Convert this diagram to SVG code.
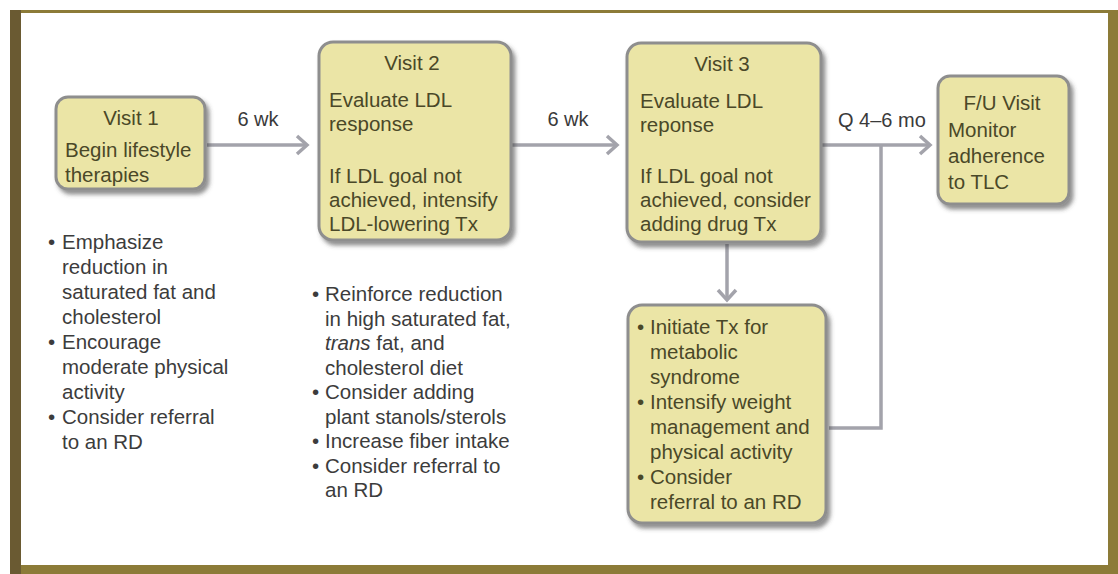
<svg xmlns="http://www.w3.org/2000/svg" width="1118" height="574" viewBox="0 0 1118 574">
<defs>
<style>
.box{fill:#ebe5a6;stroke:#8e8e8e;stroke-width:3;filter:url(#sh)}
.bt{font-family:"Liberation Sans",Arial,sans-serif;font-size:20.5px;fill:#4a4828}
.ot{font-family:"Liberation Sans",Arial,sans-serif;font-size:20.5px;fill:#3c3c3c}
.lb{font-family:"Liberation Sans",Arial,sans-serif;font-size:20px;fill:#3a3a3a}
.cn{fill:none;stroke:#a3a3ab;stroke-width:3.5}
</style>
<filter id="sh" x="-10%" y="-10%" width="130%" height="130%">
<feDropShadow dx="3" dy="4" stdDeviation="2" flood-color="#444" flood-opacity="0.6"/>
</filter>
<marker id="ah" markerWidth="16" markerHeight="22" refX="13" refY="11" orient="auto" markerUnits="userSpaceOnUse">
<path d="M3,2 L13,11 L3,20" fill="none" stroke="#a3a3ab" stroke-width="3.5"/>
</marker>
</defs>
<rect x="0" y="0" width="1118" height="574" fill="#ffffff"/>
<rect x="10" y="10" width="1108" height="564" fill="#8c7b38"/>
<rect x="10" y="10" width="11" height="564" fill="#6a5a32"/>
<rect x="21" y="13" width="1087" height="552" fill="#ffffff"/>

<g id="connectors">
<path class="cn" d="M207,145 H307" marker-end="url(#ah)"/>
<path class="cn" d="M512,145 H617" marker-end="url(#ah)"/>
<path class="cn" d="M822,145 H930" marker-end="url(#ah)"/>
<path class="cn" d="M829,428 H881 V145"/>
<path class="cn" d="M727,244 V300" marker-end="url(#ah)"/>
<text class="lb" x="258" y="126" text-anchor="middle">6 wk</text>
<text class="lb" x="568" y="126" text-anchor="middle">6 wk</text>
<text class="lb" x="838" y="127">Q 4–6 mo</text>
</g>

<g id="visit1">
<rect class="box" x="56" y="97" width="149" height="92" rx="12"/>
<text class="bt" x="131" y="125" text-anchor="middle">Visit 1</text>
<text class="bt" x="65" y="157">Begin lifestyle</text>
<text class="bt" x="65" y="182">therapies</text>
</g>

<g id="visit2">
<rect class="box" x="319" y="42" width="192" height="198" rx="14"/>
<text class="bt" x="412" y="70" text-anchor="middle">Visit 2</text>
<text class="bt" x="329" y="107">Evaluate LDL</text>
<text class="bt" x="329" y="131">response</text>
<text class="bt" x="329" y="183">If LDL goal not</text>
<text class="bt" x="329" y="207">achieved, intensify</text>
<text class="bt" x="329" y="231">LDL-lowering Tx</text>
</g>

<g id="visit3">
<rect class="box" x="627" y="43" width="194" height="199" rx="14"/>
<text class="bt" x="722" y="71" text-anchor="middle">Visit 3</text>
<text class="bt" x="640" y="108">Evaluate LDL</text>
<text class="bt" x="640" y="132">reponse</text>
<text class="bt" x="640" y="183">If LDL goal not</text>
<text class="bt" x="640" y="207">achieved, consider</text>
<text class="bt" x="640" y="231">adding drug Tx</text>
</g>

<g id="fu-visit">
<rect class="box" x="938" y="76" width="131" height="128" rx="12"/>
<text class="bt" x="1002" y="110" text-anchor="middle">F/U Visit</text>
<text class="bt" x="948" y="137">Monitor</text>
<text class="bt" x="948" y="163">adherence</text>
<text class="bt" x="948" y="189">to TLC</text>
</g>

<g id="metabolic-box">
<rect class="box" x="628" y="305" width="198" height="218" rx="14"/>
<text class="bt"><tspan x="637" y="334">•</tspan><tspan x="650" y="334">Initiate Tx for</tspan></text>
<text class="bt" x="650" y="359">metabolic</text>
<text class="bt" x="650" y="384">syndrome</text>
<text class="bt"><tspan x="637" y="409">•</tspan><tspan x="650" y="409">Intensify weight</tspan></text>
<text class="bt" x="650" y="434">management and</text>
<text class="bt" x="650" y="459">physical activity</text>
<text class="bt"><tspan x="637" y="484">•</tspan><tspan x="650" y="484">Consider</tspan></text>
<text class="bt" x="650" y="509">referral to an RD</text>
</g>

<g id="visit1-notes">
<text class="ot"><tspan x="48" y="249">•</tspan><tspan x="62" y="249">Emphasize</tspan></text>
<text class="ot" x="62" y="274">reduction in</text>
<text class="ot" x="62" y="299">saturated fat and</text>
<text class="ot" x="62" y="324">cholesterol</text>
<text class="ot"><tspan x="48" y="349">•</tspan><tspan x="62" y="349">Encourage</tspan></text>
<text class="ot" x="62" y="374">moderate physical</text>
<text class="ot" x="62" y="399">activity</text>
<text class="ot"><tspan x="48" y="424">•</tspan><tspan x="62" y="424">Consider referral</tspan></text>
<text class="ot" x="62" y="449">to an RD</text>
</g>

<g id="visit2-notes">
<text class="ot"><tspan x="312" y="301">•</tspan><tspan x="325" y="301">Reinforce reduction</tspan></text>
<text class="ot" x="325" y="325.5">in high saturated fat,</text>
<text class="ot" x="325" y="350"><tspan font-style="italic">trans</tspan> fat, and</text>
<text class="ot" x="325" y="374.5">cholesterol diet</text>
<text class="ot"><tspan x="312" y="399">•</tspan><tspan x="325" y="399">Consider adding</tspan></text>
<text class="ot" x="325" y="423.5">plant stanols/sterols</text>
<text class="ot"><tspan x="312" y="448">•</tspan><tspan x="325" y="448">Increase fiber intake</tspan></text>
<text class="ot"><tspan x="312" y="472.5">•</tspan><tspan x="325" y="472.5">Consider referral to</tspan></text>
<text class="ot" x="325" y="497">an RD</text>
</g>
</svg>
